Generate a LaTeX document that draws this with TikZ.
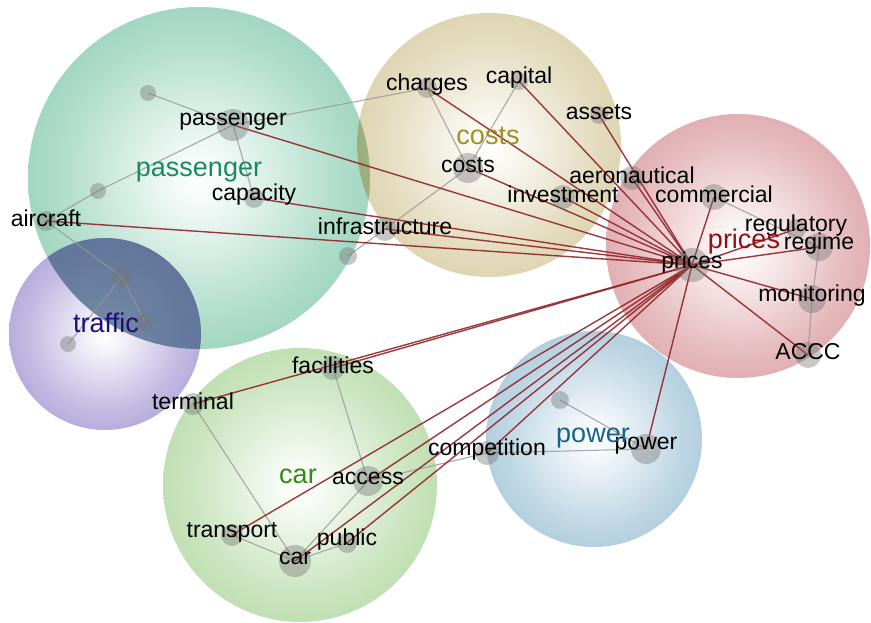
\documentclass[tikz,border=0pt]{standalone}
\usepackage{fontspec}
\setmainfont{Liberation Sans}
\usetikzlibrary{backgrounds}

\definecolor{passengerC}{RGB}{100,188,152}
\definecolor{costsC}{RGB}{200,185,128}
\definecolor{pricesC}{RGB}{205,122,128}
\definecolor{trafficC}{RGB}{135,118,198}
\definecolor{carC}{RGB}{150,202,128}
\definecolor{powerC}{RGB}{128,175,202}
\definecolor{passengerT}{RGB}{25,140,95}
\definecolor{costsT}{RGB}{160,145,30}
\definecolor{pricesT}{RGB}{150,15,20}
\definecolor{trafficT}{RGB}{30,15,120}
\definecolor{carT}{RGB}{50,140,20}
\definecolor{powerT}{RGB}{20,100,140}
\definecolor{tiered}{RGB}{145,35,40}
\definecolor{linkgrey}{RGB}{150,150,150}
\definecolor{darkmix}{RGB}{70,100,135}
\definecolor{olivemix}{RGB}{140,165,115}

\colorlet{bubcol}{gray}
\pgfdeclareradialshading[bubcol]{bubble}{\pgfpoint{0bp}{0bp}}{%
  color(0bp)=(white); color(4bp)=(bubcol!8!white); color(20bp)=(bubcol!50!white);
  color(38bp)=(bubcol!85!white); color(47bp)=(bubcol); color(50bp)=(bubcol!90!black)}

\begin{document}
\begin{tikzpicture}[x=1pt, y=-1pt,
  cluster/.style={shading=bubble, /utils/exec={\colorlet{bubcol}{#1}}},
  hub/.style={font=\fontsize{27}{30}\selectfont, text=#1, inner sep=0, anchor=base},
  term/.style={circle, fill=black!55, fill opacity=.4, inner sep=0, minimum size=#1pt},
  word/.style={font=\fontsize{23}{26}\selectfont, text=black, text opacity=1, inner sep=0, anchor=base, yshift=3pt},
  link/.style={draw=linkgrey, draw opacity=.8, line width=1.1pt},
  tie/.style={draw=tiered, draw opacity=.9, line width=1.4pt}]
\useasboundingbox (0,0) rectangle (871,623);

% the six topic bubbles
\begin{scope}[on background layer]
\shade[cluster=passengerC] (199,178) circle (171pt);
\shade[cluster=costsC] (489,145) circle (132pt);
\shade[cluster=pricesC] (738,246) circle (132pt);
\shade[cluster=trafficC] (105,334) circle (96pt);
\shade[cluster=carC] (300,485) circle (137pt);
\shade[cluster=powerC] (594,439) circle (108pt);
% where bubbles overlap they get darker
\begin{scope}
\clip (199,178) circle (171pt);
\fill[darkmix, fill opacity=.75] (105,334) circle (96pt);
\fill[olivemix, fill opacity=.8] (489,145) circle (132pt);
\end{scope}
\end{scope}

% passenger
\node[term=16] (p1) at (148,93) {};
\node[term=32, label={[word]center:passenger}] (passenger) at (233,125) {};
\node[term=16] (p2) at (98,191) {};
\node[term=20, label={[word]center:aircraft}] (aircraft) at (46,221) {};
\node[term=20, label={[word]center:capacity}] (capacity) at (254,198) {};
\node[term=18] (p3) at (348,256) {};
% traffic
\node[term=20] (t1) at (122,277) {};
\node[term=18] (t2) at (145,322) {};
\node[term=16] (t3) at (68,344) {};
% costs
\node[term=20, label={[word]center:charges}] (charges) at (427,88) {};
\node[term=18, label={[word]center:capital}] (capital) at (519,81) {};
\node[term=18, label={[word]center:assets}] (assets) at (599,115) {};
\node[term=30, label={[word]center:costs}] (costs) at (468,168) {};
\node[term=24, label={[word]center:investment}] (investment) at (563,197) {};
\node[term=24, label={[word]center:infrastructure}] (infrastructure) at (385,229) {};
% prices
\node[term=24, label={[word]center:aeronautical}] (aeronautical) at (632,178) {};
\node[term=26, label={[word]center:commercial}] (commercial) at (714,197) {};
\node[term=20, label={[word]center:regulatory}] (regulatory) at (796,229) {};
\node[term=28, label={[word]center:regime}] (regime) at (819,247) {};
\node[term=34, label={[word, yshift=-1pt]center:prices}] (prices) at (692,265) {};
\node[term=28, label={[word]center:monitoring}] (monitoring) at (812,299) {};
\node[term=26, label={[word]center:ACCC}] (ACCC) at (808,355) {};
% car
\node[term=24, label={[word]center:facilities}] (facilities) at (333,368) {};
\node[term=22, label={[word]center:terminal}] (terminal) at (193,404) {};
\node[term=30, label={[word]center:access}] (access) at (368,481) {};
\node[term=22, label={[word]center:transport}] (transport) at (232,535) {};
\node[term=32, label={[word]center:car}] (car) at (295,561) {};
\node[term=20, label={[word]center:public}] (public) at (347,543) {};
% power
\node[term=24, label={[word]center:competition}] (competition) at (487,453) {};
\node[term=18] (w1) at (560,400) {};
\node[term=30, label={[word]center:power}] (power) at (646,449) {};

% topic names
\node[hub=passengerT] (hubpassenger) at (199,177) {passenger};
\node[hub=costsT] (hubcosts) at (488,145) {costs};
\node[hub=pricesT] (hubprices) at (744,248) {prices};
\node[hub=trafficT] (hubtraffic) at (106,332) {traffic};
\node[hub=carT] (hubcar) at (298,483) {car};
\node[hub=powerT] (hubpower) at (593,442) {power};

\begin{scope}[on background layer]
% links inside the topics
\draw[link] (p1.center) -- (passenger.center);
\draw[link] (passenger.center) -- (capacity.center);
\draw[link] (passenger.center) -- (p2.center);
\draw[link] (p2.center) -- (aircraft.center);
\draw[link] (passenger.center) -- (charges.center);
\draw[link] (aircraft.center) -- (t1.center);
\draw[link] (t1.center) -- (t2.center);
\draw[link] (t1.center) -- (t3.center);
\draw[link] (charges.center) -- (costs.center);
\draw[link] (capital.center) -- (costs.center);
\draw[link] (costs.center) -- (infrastructure.center);
\draw[link] (infrastructure.center) -- (p3.center);
\draw[link] (commercial.center) -- (regime.center);
\draw[link] (regime.center) -- (monitoring.center);
\draw[link] (monitoring.center) -- (ACCC.center);
\draw[link] (facilities.center) -- (access.center);
\draw[link] (terminal.center) -- (car.center);
\draw[link] (transport.center) -- (car.center);
\draw[link] (car.center) -- (public.center);
\draw[link] (car.center) -- (access.center);
\draw[link] (access.center) -- (competition.center);
\draw[link] (competition.center) -- (power.center);
\draw[link] (w1.center) -- (power.center);
% everything tied to prices
\draw[tie] (prices.center) -- (passenger.center);
\draw[tie] (prices.center) -- (aircraft.center);
\draw[tie] (prices.center) -- (capacity.center);
\draw[tie] (prices.center) -- (charges.center);
\draw[tie] (prices.center) -- (capital.center);
\draw[tie] (prices.center) -- (assets.center);
\draw[tie] (prices.center) -- (costs.center);
\draw[tie] (prices.center) -- (investment.center);
\draw[tie] (prices.center) -- (infrastructure.center);
\draw[tie] (prices.center) -- (aeronautical.center);
\draw[tie] (prices.center) -- (commercial.center);
\draw[tie] (prices.center) -- (regulatory.center);
\draw[tie] (prices.center) -- (regime.center);
\draw[tie] (prices.center) -- (monitoring.center);
\draw[tie] (prices.center) -- (ACCC.center);
\draw[tie] (prices.center) -- (power.center);
\draw[tie] (prices.center) -- (facilities.center);
\draw[tie] (prices.center) -- (terminal.center);
\draw[tie] (prices.center) -- (transport.center);
\draw[tie] (prices.center) -- (access.center);
\draw[tie] (prices.center) -- (car.center);
\draw[tie] (prices.center) -- (public.center);
\draw[tie] (prices.center) -- (competition.center);
\end{scope}
\end{tikzpicture}
\end{document}
